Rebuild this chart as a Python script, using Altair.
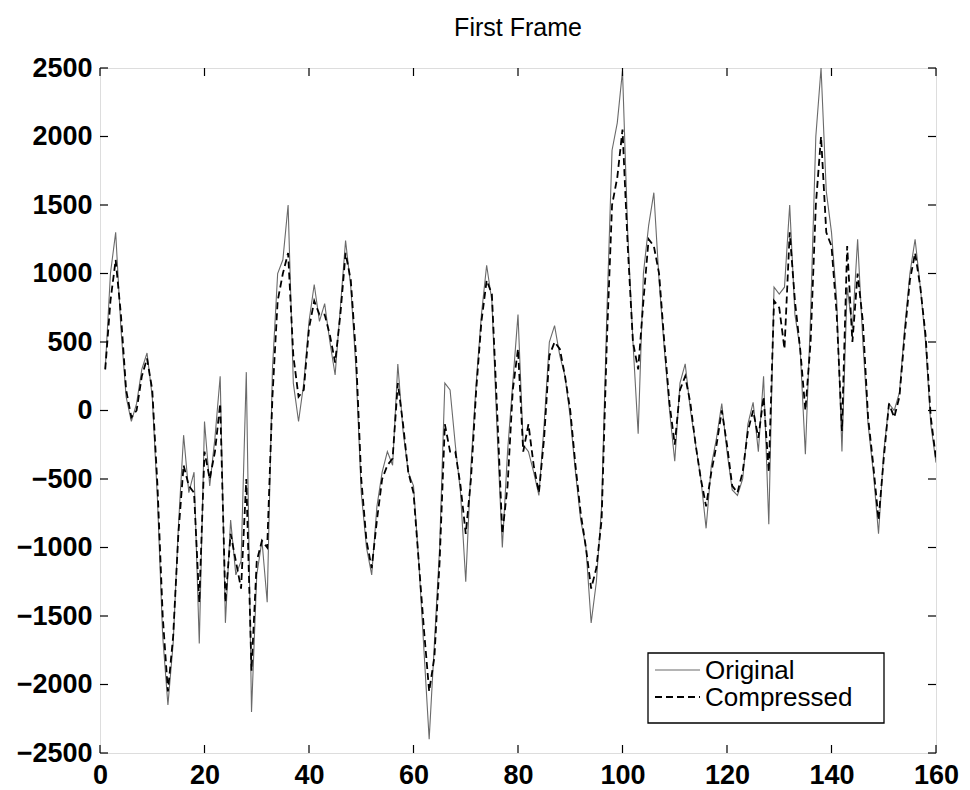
import altair as alt
import pandas as pd

# ---------------- data ----------------
sample = list(range(1, 161))

original = [
    300, 1000, 1300, 600, 100, -80, 50, 300, 420, 100,
    -650, -1650, -2150, -1700, -850, -180, -600, -450, -1700, -80,
    -550, -200, 250, -1550, -800, -1200, -1100, 280, -2200, -1200,
    -950, -1400, 300, 1000, 1100, 1500, 200, -80, 200, 650,
    920, 650, 780, 500, 260, 750, 1240, 900, 300, -600,
    -1000, -1200, -700, -450, -300, -400, 340, -150, -450, -550,
    -1100, -1750, -2400, -1700, -1000, 200, 150, -250, -600, -1250,
    -400, 200, 700, 1060, 800, -150, -1000, -300, 200, 700,
    -250, -300, -450, -620, -100, 500, 620, 400, 250, -50,
    -450, -800, -1000, -1550, -1250, -700, 700, 1900, 2100, 2480,
    1300, 500, -170, 1000, 1350, 1590, 950, 450, 0, -370,
    200, 340, 0, -250, -500, -860, -400, -200, 50, -300,
    -580, -620, -500, -100, 60, -300, 250, -830, 900, 850,
    900, 1500, 700, 450, -320, 700, 2000, 2500, 1600, 1300,
    800, -300, 900, 600, 1250, 500, -100, -450, -900, -300,
    50, 0, 130, 600, 1000, 1250, 900, 500, -100, -380,
]

compressed = [
    300, 800, 1100, 700, 150, -50, 0, 250, 380, 150,
    -550, -1500, -2050, -1650, -900, -400, -550, -600, -1400, -300,
    -500, -300, 50, -1400, -900, -1100, -1300, -500, -1900, -1100,
    -950, -1000, 100, 800, 1000, 1150, 400, 100, 150, 600,
    800, 700, 700, 550, 350, 700, 1150, 950, 400, -500,
    -950, -1150, -800, -500, -400, -350, 200, -100, -450, -600,
    -1100, -1600, -2050, -1800, -1100, -100, -300, -300, -550, -900,
    -500, 150, 650, 950, 850, 0, -900, -550, 150, 450,
    -300, -100, -400, -600, -200, 400, 500, 450, 250, 0,
    -400, -750, -1000, -1300, -1150, -800, 500, 1500, 1700, 2050,
    1200, 500, 300, 800, 1250, 1200, 1000, 500, 50, -250,
    150, 250, 50, -250, -500, -700, -450, -250, 0, -250,
    -550, -600, -450, -150, 0, -200, 100, -450, 800, 750,
    450, 1300, 800, 450, 0, 500, 1500, 2000, 1300, 1200,
    700, -150, 1200, 500, 1000, 650, -50, -400, -800, -350,
    50, -50, 100, 550, 950, 1150, 900, 550, -50, -350,
]

series_names = ["Original", "Compressed"]
x_ticks = [0, 20, 40, 60, 80, 100, 120, 140, 160]
y_ticks = [-2500, -2000, -1500, -1000, -500, 0, 500, 1000, 1500, 2000, 2500]
title_text = "First Frame"

# ---------------- layout / style ----------------
W, H = 836, 685
FONT = "Liberation Sans"
TICK_LEN = 8

df = pd.DataFrame({
    "n": sample * 2,
    "value": original + compressed,
    "series": [series_names[0]] * len(sample) + [series_names[1]] * len(sample),
})

xs = alt.Scale(domain=[0, 160], nice=False, zero=False)
ys = alt.Scale(domain=[-2500, 2500], nice=False, zero=False)

x_axis = alt.Axis(values=x_ticks, title=None, ticks=False, domain=False, grid=False,
                  labelFont=FONT, labelFontSize=27, labelFontWeight="bold",
                  labelColor="black", labelPadding=9, labelOverlap=False,
                  labelFlush=False, format="d")
y_axis = alt.Axis(values=y_ticks, title=None, ticks=False, domain=False, grid=False,
                  labelFont=FONT, labelFontSize=27, labelFontWeight="bold",
                  labelColor="black", labelPadding=8, labelOverlap=False,
                  labelFlush=False, format="d")

base = alt.Chart(df)

orig_line = base.transform_filter(alt.datum.series == series_names[0]).mark_line(
    color="#6a6a6a", strokeWidth=1.1, clip=True
).encode(
    x=alt.X("n:Q", scale=xs, axis=x_axis),
    y=alt.Y("value:Q", scale=ys, axis=y_axis),
)

comp_line = base.transform_filter(alt.datum.series == series_names[1]).mark_line(
    color="black", strokeWidth=1.8, strokeDash=[7, 4], clip=True
).encode(
    x=alt.X("n:Q", scale=xs, axis=x_axis),
    y=alt.Y("value:Q", scale=ys, axis=y_axis),
)

xt = alt.Chart(pd.DataFrame({"t": x_ticks}))
yt = alt.Chart(pd.DataFrame({"t": y_ticks}))

xtick_bottom = xt.mark_rule(color="black", strokeWidth=1.2).encode(
    x=alt.X("t:Q", scale=xs, axis=x_axis), y=alt.value(H), y2=alt.value(H - TICK_LEN))
xtick_top = xt.mark_rule(color="black", strokeWidth=1.2).encode(
    x=alt.X("t:Q", scale=xs, axis=x_axis), y=alt.value(0), y2=alt.value(TICK_LEN))
ytick_left = yt.mark_rule(color="black", strokeWidth=1.2).encode(
    y=alt.Y("t:Q", scale=ys, axis=y_axis), x=alt.value(0), x2=alt.value(TICK_LEN))
ytick_right = yt.mark_rule(color="black", strokeWidth=1.2).encode(
    y=alt.Y("t:Q", scale=ys, axis=y_axis), x=alt.value(W), x2=alt.value(W - TICK_LEN))

# ---------------- legend (drawn by hand, MATLAB style) ----------------
LX0, LX1, LY0, LY1 = 548, 784, 585, 655
legend_box = alt.Chart(pd.DataFrame({"k": [0]})).mark_rect(
    fill="white", stroke="black", strokeWidth=1.3
).encode(x=alt.value(LX0), x2=alt.value(LX1), y=alt.value(LY0), y2=alt.value(LY1))

row_y = [LY0 + 17, LY0 + 44]
sym_styles = [dict(color="#6a6a6a", strokeWidth=1.1),
              dict(color="black", strokeWidth=1.8, strokeDash=[7, 4])]
legend_layers = [legend_box]
for name, yy, st in zip(series_names, row_y, sym_styles):
    d = pd.DataFrame({"label": [name]})
    legend_layers.append(
        alt.Chart(d).mark_rule(**st).encode(
            x=alt.value(LX0 + 7), x2=alt.value(LX0 + 52), y=alt.value(yy))
    )
    legend_layers.append(
        alt.Chart(d).mark_text(align="left", baseline="middle", font=FONT,
                               fontSize=26, color="black").encode(
            text="label:N", x=alt.value(LX0 + 57), y=alt.value(yy + 1))
    )

chart = alt.layer(
    orig_line, comp_line, xtick_bottom, xtick_top, ytick_left, ytick_right,
    *legend_layers
).properties(
    width=W, height=H,
    title=alt.TitleParams(title_text, font=FONT, fontSize=25, fontWeight="normal",
                          color="black", anchor="middle", offset=13),
    autosize=alt.AutoSizeParams(type="none"),
    padding={"left": 92, "top": 60, "right": 24, "bottom": 36},
).configure_view(
    stroke="black", strokeWidth=1.5
).configure(background="white")

chart.save("out.html", embed_options={"renderer": "svg", "actions": False})
